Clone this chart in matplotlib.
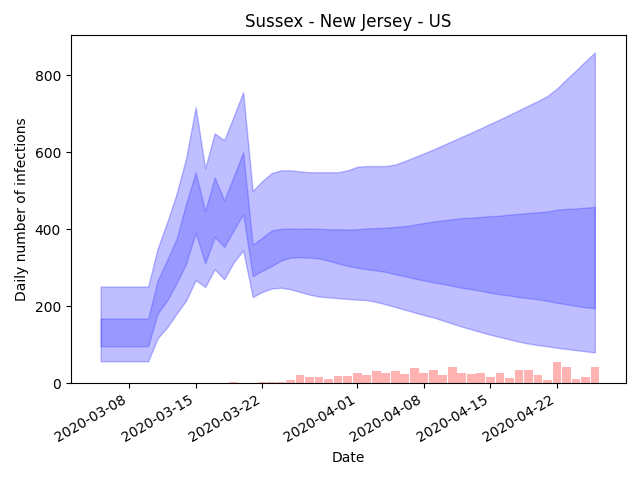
import matplotlib
matplotlib.use("Agg")
import matplotlib.pyplot as plt
import matplotlib.dates as mdates
import pandas as pd

start_date = "2020-03-05"
tick_dates = ["2020-03-08", "2020-03-15", "2020-03-22", "2020-04-01",
              "2020-04-08", "2020-04-15", "2020-04-22"]

outer_upper = [251, 251, 251, 251, 251, 251, 350, 418, 493, 585, 717, 558, 649, 631, 693, 756,
               499, 525, 546, 553, 553, 550, 548, 548, 548, 548, 553, 562, 564, 564, 564, 568, 577, 587, 597,
               607, 618, 629, 640, 651, 662, 674, 685, 697, 709, 721, 733, 746, 765, 789, 812, 836, 859]
inner_upper = [168, 168, 168, 168, 168, 168, 267, 320, 376, 467, 548, 447, 535, 475, 537, 600,
               360, 378, 397, 401, 402, 401, 402, 401, 400, 400, 399, 400, 402, 403, 404, 406, 408, 412, 416,
               420, 423, 426, 429, 430, 432, 434, 435, 438, 440, 442, 444, 446, 451, 453, 454, 456, 458]
inner_lower = [96, 96, 96, 96, 96, 96, 181, 215, 260, 311, 390, 311, 380, 354, 397, 439,
               278, 292, 304, 319, 326, 327, 326, 324, 318, 311, 305, 300, 296, 293, 289, 283, 278, 272, 267,
               262, 258, 253, 248, 244, 240, 235, 231, 228, 224, 221, 218, 214, 209, 205, 201, 197, 195]
outer_lower = [57, 57, 57, 57, 57, 57, 117, 145, 181, 215, 268, 250, 296, 270, 314, 345,
               224, 237, 246, 248, 244, 237, 230, 225, 223, 221, 219, 217, 216, 211, 205, 198, 191, 184, 177,
               171, 163, 155, 147, 140, 133, 126, 120, 114, 108, 103, 99, 96, 92, 89, 86, 83, 80]
daily_cases = [0, 0, 0, 0, 0, 0, 0, 0, 0, 0, 0, 0, 0, 0, 2, 0,
               1, 4, 2, 2, 8, 21, 16, 16, 11, 18, 18, 26, 21, 31, 26, 31, 24, 39, 26,
               34, 21, 42, 26, 24, 26, 16, 26, 14, 34, 34, 21, 8, 55, 42, 11, 16, 42]

dates = pd.date_range(start_date, periods=len(outer_upper), freq="D")

fig, ax = plt.subplots(figsize=(6.4, 4.8), dpi=100)
ax.fill_between(dates, outer_lower, outer_upper, color="blue", alpha=0.25)
ax.fill_between(dates, inner_lower, inner_upper, color="blue", alpha=0.2)
ax.bar(dates, daily_cases, width=0.9, color="red", alpha=0.3, linewidth=0)

ax.set_xticks(pd.to_datetime(tick_dates))
ax.xaxis.set_major_formatter(mdates.DateFormatter("%Y-%m-%d"))
ax.set_xlim(dates[0] - pd.Timedelta(days=3.16), dates[-1] + pd.Timedelta(days=3.26))
ax.set_ylim(0, 904)
ax.set_yticks([0, 200, 400, 600, 800])
ax.set_xlabel("Date")
ax.set_ylabel("Daily number of infections")
ax.set_title("Sussex - New Jersey - US")
fig.autofmt_xdate()
fig.subplots_adjust(left=70.6 / 640, right=625.8 / 640, top=1 - 35.2 / 480, bottom=1 - 383.2 / 480)
fig.savefig("out.png", dpi=100)
